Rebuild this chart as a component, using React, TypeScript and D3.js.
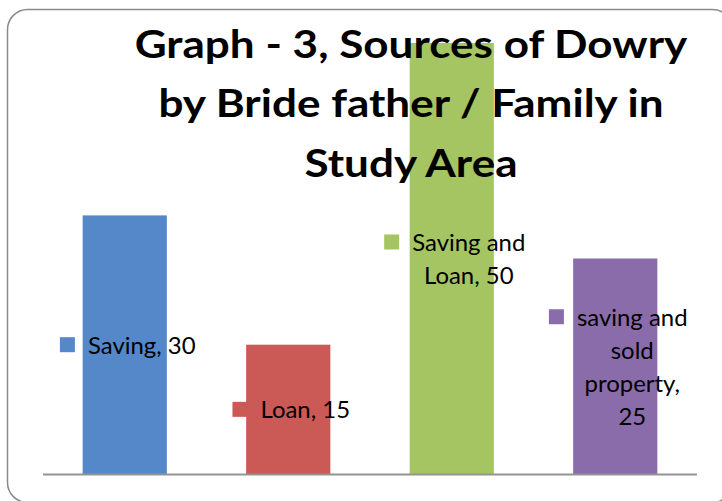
import { useRef, useEffect } from 'react';
import * as d3 from 'd3';

const categories = ['Saving', 'Loan', 'Saving and Loan', 'saving and sold property'];
const values = [30, 15, 50, 25];
const labelLines = [
  ['Saving, 30'],
  ['Loan, 15'],
  ['Saving and', 'Loan, 50'],
  ['saving and', 'sold', 'property,', '25'],
];
const colors = ['#5588C8', '#CB5956', '#A5C462', '#8A6CAA'];
const titleLines = ['Graph - 3, Sources of Dowry', 'by Bride father / Family in', 'Study Area'];

const W = 722;
const H = 501;

export default function App() {
  const svgRef = useRef<SVGSVGElement>(null);

  useEffect(() => {
    document.body.style.margin = '0';
    if (!svgRef.current) return;
    const svg = d3.select(svgRef.current);
    svg.selectAll('*').remove();

    const left = 43, right = 697, top = 43, bottom = 474;
    const font = 'Lato, sans-serif';

    const x = d3.scaleBand<string>()
      .domain(categories)
      .range([left, right])
      .paddingInner(0.485)
      .paddingOuter(0.2425);

    const y = d3.scaleLinear().domain([0, 50]).range([bottom, top]);

    // frame
    svg.append('rect')
      .attr('x', 7.5).attr('y', 9.5)
      .attr('width', 725).attr('height', 493)
      .attr('rx', 20)
      .attr('fill', '#fff')
      .attr('stroke', '#8a8a8a')
      .attr('stroke-width', 1.5);

    svg.append('g')
      .selectAll('rect')
      .data(categories)
      .join('rect')
      .attr('x', d => x(d)!)
      .attr('y', (d, i) => y(values[i]))
      .attr('width', x.bandwidth())
      .attr('height', (d, i) => y(0) - y(values[i]))
      .attr('fill', (d, i) => colors[i]);

    // baseline
    svg.append('line')
      .attr('x1', left).attr('x2', right)
      .attr('y1', bottom + 0.5).attr('y2', bottom + 0.5)
      .attr('stroke', '#939393')
      .attr('stroke-width', 2.2);

    // title (Calibri-like is wider than Lato, so stretch a bit)
    svg.append('g')
      .selectAll('text')
      .data(titleLines)
      .join('text')
      .attr('transform', (d, i) => `translate(411,${58 + i * 59.3}) scale(1.13,1)`)
      .attr('text-anchor', 'middle')
      .attr('font-family', font)
      .attr('font-weight', 700)
      .attr('font-size', 39)
      .attr('fill', '#000')
      .text(d => d);

    // data labels with legend keys
    const lineH = 33;
    const keySize = 15;
    const keyGap = 13;
    const sx = 1.05;
    categories.forEach((c, i) => {
      const lines = labelLines[i];
      const g = svg.append('g');
      const texts = g.selectAll('text')
        .data(lines)
        .join('text')
        .attr('font-family', font)
        .attr('font-size', 22.8)
        .attr('text-anchor', 'middle')
        .attr('fill', '#000')
        .text(d => d);
      let maxW = 0;
      texts.each(function () {
        maxW = Math.max(maxW, (this as SVGTextElement).getComputedTextLength() * sx);
      });
      const blockW = keySize + keyGap + maxW;
      const cx = x(c)! + x.bandwidth() / 2 + 3;
      const cy = (y(values[i]) + y(0)) / 2 + 3;
      const blockH = lines.length * lineH - 10;
      const bx = cx - blockW / 2;
      const firstBase = cy - blockH / 2 + 17.5;
      const textCx = bx + keySize + keyGap + maxW / 2;
      texts.attr('transform', (d, j) => `translate(${textCx},${firstBase + j * lineH}) scale(${sx},1)`);
      g.append('rect')
        .attr('x', bx)
        .attr('y', firstBase - 9 - keySize / 2)
        .attr('width', keySize)
        .attr('height', keySize)
        .attr('fill', colors[i]);
    });
  }, []);

  return <svg ref={svgRef} width={W} height={H} style={{ display: 'block' }} />;
}
